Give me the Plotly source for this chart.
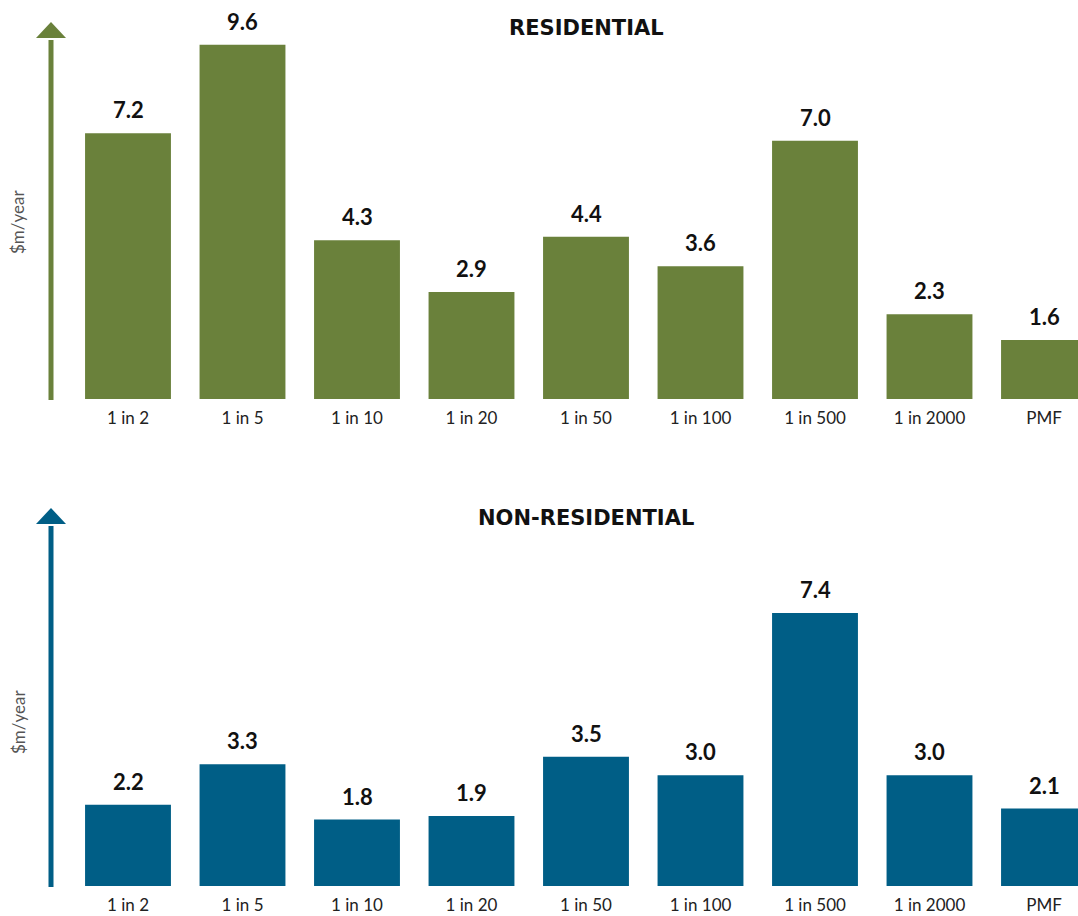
import plotly.graph_objects as go

# Return periods shared by both panels
categories = ["1 in 2", "1 in 5", "1 in 10", "1 in 20", "1 in 50",
              "1 in 100", "1 in 500", "1 in 2000", "PMF"]

# Annualised damages, $m/year
residential = [7.2, 9.6, 4.3, 2.9, 4.4, 3.6, 7.0, 2.3, 1.6]
non_residential = [2.2, 3.3, 1.8, 1.9, 3.5, 3.0, 7.4, 3.0, 2.1]

W, H = 1078, 916
GREEN = "#6a813b"
BLUE = "#005e86"
FONT = "Lato"
TITLE_FONT = "DejaVu Sans"


def px_x(x):
    return x / W


def px_y(y):
    return (H - y) / H


fig = go.Figure()

panels = [
    # (values, colour, title, xaxis, yaxis, plot top px, plot bottom px, title y px, ylabel y px)
    (residential, GREEN, "RESIDENTIAL", "x", "y", 10, 399, 28, 222),
    (non_residential, BLUE, "NON-RESIDENTIAL", "x2", "y2", 496, 886, 518, 722),
]

PX_PER_UNIT = 36.9
x_left, x_right = 70.75, 1078
step = 114.5

for vals, col, title, xa, ya, top, bottom, ty, ly in panels:
    fig.add_trace(go.Bar(
        x=categories, y=vals, xaxis=xa, yaxis=ya,
        marker=dict(color=col, line=dict(width=0)),
        hoverinfo="x+y", showlegend=False,
    ))
    # value labels above each bar
    for c, v in zip(categories, vals):
        fig.add_annotation(
            x=c, y=v, xref=xa, yref=ya, text=f"<b>{v:.1f}</b>",
            showarrow=False, yanchor="bottom", yshift=8,
            font=dict(family=FONT, size=22, color="#111111"),
        )
    # panel title
    fig.add_annotation(
        x=px_x(586), y=px_y(ty), xref="paper", yref="paper",
        xanchor="center", yanchor="middle",
        text=f"<b>{title}</b>", showarrow=False,
        font=dict(family=TITLE_FONT, size=21, color="#111111"),
    )
    # axis label
    fig.add_annotation(
        x=px_x(18), y=px_y(ly), xref="paper", yref="paper",
        xanchor="center", yanchor="middle",
        text="$m/year", textangle=-90, showarrow=False,
        font=dict(family=FONT, size=17, color="#555555"),
    )
    # arrow standing in for the value axis
    fig.add_shape(type="line", xref="paper", yref="paper",
                  x0=px_x(51), x1=px_x(51), y0=px_y(bottom + 1), y1=px_y(top + 30),
                  line=dict(color=col, width=5))
    fig.add_shape(type="path", xref="paper", yref="paper",
                  path=(f"M {px_x(36)} {px_y(top + 28)} L {px_x(66)} {px_y(top + 28)} "
                        f"L {px_x(51)} {px_y(top + 12)} Z"),
                  fillcolor=col, line=dict(width=0))

    span = (bottom - top) / PX_PER_UNIT
    axis_x = dict(
        domain=[px_x(x_left), 1.0],
        range=[-0.5, -0.5 + (x_right - x_left) / step],
        showgrid=False, zeroline=False, showline=False,
        ticks="outside", ticklen=4, tickcolor="rgba(0,0,0,0)",
        tickfont=dict(family=FONT, size=17, color="#222222"),
        fixedrange=True,
    )
    axis_y = dict(
        domain=[px_y(bottom), px_y(top)],
        range=[0, span], visible=False, fixedrange=True,
    )
    if xa == "x":
        fig.update_layout(xaxis=axis_x, yaxis=axis_y)
    else:
        axis_x["anchor"] = "y2"
        axis_y["anchor"] = "x2"
        fig.update_layout(xaxis2=axis_x, yaxis2=axis_y)

fig.update_layout(
    width=W, height=H,
    margin=dict(l=0, r=0, t=0, b=0),
    paper_bgcolor="white", plot_bgcolor="white",
    bargap=0.25,
    font=dict(family=FONT),
)

fig.write_html("out.html")
